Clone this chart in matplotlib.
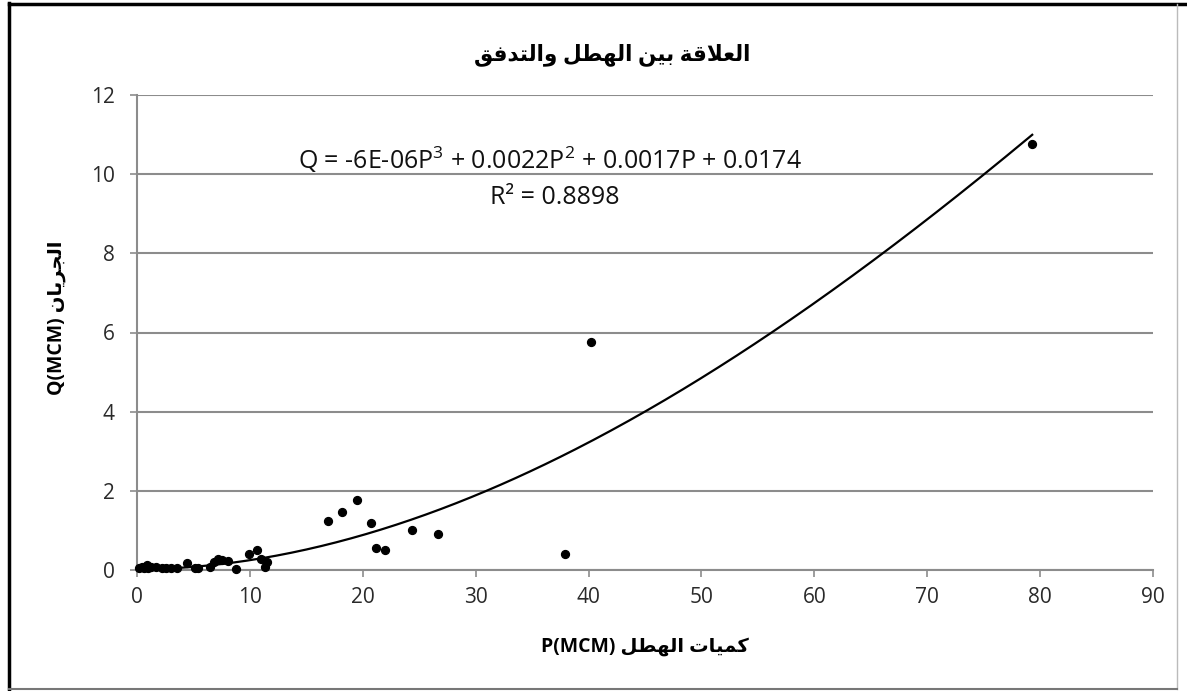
"""Rainfall vs. runoff scatter with cubic trendline."""

import numpy as np
import matplotlib
matplotlib.use('Agg')
import matplotlib.pyplot as plt
from matplotlib.lines import Line2D

# rainfall P (MCM) and runoff Q (MCM)
p_vals = [0.2, 0.4, 0.6, 0.9, 1.0, 1.2, 1.7, 2.2, 2.6, 3.0, 3.5, 4.4, 5.1, 5.4,
          6.5, 6.8, 7.2, 7.5, 8.1, 8.8, 9.9, 10.6, 11.0, 11.3, 11.5,
          16.9, 18.2, 19.5, 20.7, 21.2, 22.0, 24.4, 26.7, 37.9, 40.2, 79.3]
q_vals = [0.05, 0.07, 0.04, 0.13, 0.04, 0.08, 0.07, 0.05, 0.05, 0.04, 0.05, 0.18, 0.06, 0.04,
          0.07, 0.21, 0.29, 0.25, 0.23, 0.03, 0.40, 0.50, 0.28, 0.08, 0.20,
          1.24, 1.46, 1.78, 1.18, 0.55, 0.50, 1.01, 0.92, 0.40, 5.76, 10.75]

# trendline coefficients as printed on the chart (highest power first)
trend_coefs = [-6e-06, 0.0022, 0.0017, 0.0174]
r_squared = 0.8898

x_ticks = list(range(0, 91, 10))
y_ticks = list(range(0, 13, 2))

title_ar = 'العلاقة بين الهطل والتدفق'
xlabel_ar = 'كميات الهطل'
ylabel_ar = 'الجريان'

# --- minimal Arabic shaping (matplotlib has no complex text layout) ---
# isolated, final, initial, medial
FORMS = {
    'ا': ('\uFE8D', '\uFE8E', None, None),
    'ب': ('\uFE8F', '\uFE90', '\uFE91', '\uFE92'),
    'ة': ('\uFE93', '\uFE94', None, None),
    'ت': ('\uFE95', '\uFE96', '\uFE97', '\uFE98'),
    'ج': ('\uFE9D', '\uFE9E', '\uFE9F', '\uFEA0'),
    'د': ('\uFEA9', '\uFEAA', None, None),
    'ر': ('\uFEAD', '\uFEAE', None, None),
    'ط': ('\uFEC1', '\uFEC2', '\uFEC3', '\uFEC4'),
    'ع': ('\uFEC9', '\uFECA', '\uFECB', '\uFECC'),
    'ف': ('\uFED1', '\uFED2', '\uFED3', '\uFED4'),
    'ق': ('\uFED5', '\uFED6', '\uFED7', '\uFED8'),
    'ك': ('\uFED9', '\uFEDA', '\uFEDB', '\uFEDC'),
    'ل': ('\uFEDD', '\uFEDE', '\uFEDF', '\uFEE0'),
    'م': ('\uFEE1', '\uFEE2', '\uFEE3', '\uFEE4'),
    'ن': ('\uFEE5', '\uFEE6', '\uFEE7', '\uFEE8'),
    'ه': ('\uFEE9', '\uFEEA', '\uFEEB', '\uFEEC'),
    'و': ('\uFEED', '\uFEEE', None, None),
    'ي': ('\uFEF1', '\uFEF2', '\uFEF3', '\uFEF4'),
    'لا': ('\uFEFB', '\uFEFC', None, None),
}


def shape_arabic(text):
    """Return visual (left-to-right) string of presentation forms."""
    tokens = []
    i = 0
    while i < len(text):
        if text[i] == 'ل' and i + 1 < len(text) and text[i + 1] == 'ا':
            tokens.append('لا')
            i += 2
        else:
            tokens.append(text[i])
            i += 1
    out = []
    for k, t in enumerate(tokens):
        if t not in FORMS:
            out.append(t)
            continue
        prev = tokens[k - 1] if k > 0 else None
        nxt = tokens[k + 1] if k + 1 < len(tokens) else None
        join_prev = prev in FORMS and FORMS[prev][2] is not None
        join_next = FORMS[t][2] is not None and nxt in FORMS
        iso, fin, ini, med = FORMS[t]
        if join_prev and join_next:
            out.append(med)
        elif join_prev:
            out.append(fin)
        elif join_next:
            out.append(ini)
        else:
            out.append(iso)
    return ''.join(reversed(out))


plt.rcParams['font.family'] = ['Open Sans', 'DejaVu Sans']
plt.rcParams['mathtext.fontset'] = 'custom'
plt.rcParams['mathtext.rm'] = 'Open Sans'
plt.rcParams['mathtext.default'] = 'rm'

fig = plt.figure(figsize=(11.87, 6.91), dpi=100)
W, H = 1187, 691


def fx(px):
    return px / W


def fy(py):
    return 1 - py / H


ax = fig.add_axes([fx(137), fy(570), (1153 - 137) / W, (570 - 95) / H])

grid_col = '#8c8c8c'
ax.set_xlim(0, 90)
ax.set_ylim(0, 12)
ax.set_xticks(x_ticks)
ax.set_yticks(y_ticks)
ax.yaxis.grid(True, color=grid_col, linewidth=1.5)
ax.set_axisbelow(True)
for side in ['top', 'right']:
    ax.spines[side].set_visible(False)
for side in ['left', 'bottom']:
    ax.spines[side].set_color(grid_col)
    ax.spines[side].set_linewidth(1.5)
ax.tick_params(axis='both', direction='out', length=5, width=1.2, color=grid_col,
               labelsize=15, labelcolor='#2a2a2a')
ax.tick_params(axis='x', pad=7)
ax.tick_params(axis='y', pad=11)

# trendline
xs = np.linspace(min(p_vals), max(p_vals), 300)
ax.plot(xs, np.polyval(trend_coefs, xs), color='black', linewidth=1.6, zorder=3)

ax.scatter(p_vals, q_vals, s=32, color='black', zorder=4, clip_on=False)

eq = 'Q = -6E-06P$^{3}$ + 0.0022P$^{2}$ + 0.0017P + 0.0174'
fig.text(fx(550), fy(160), eq, fontsize=18, ha='center', va='center', color='#111111')
fig.text(fx(555), fy(198), f'R² = {r_squared}', fontsize=18,
         ha='center', va='center', color='#111111')

fig.text(fx(612), fy(55), shape_arabic(title_ar), fontsize=15.5, fontweight='bold',
         ha='center', va='center')
fig.text(fx(645), fy(647), 'P(MCM) ' + shape_arabic(xlabel_ar), fontsize=14,
         fontweight='bold', ha='center', va='center')
fig.text(fx(57), fy(318), 'Q(MCM) ' + shape_arabic(ylabel_ar), fontsize=14,
         fontweight='bold', ha='center', va='center', rotation=90)

# outer frame of the chart area
fig.add_artist(Line2D([fx(9), fx(9)], [0, fy(3)], transform=fig.transFigure,
                      color='black', linewidth=2.5))
fig.add_artist(Line2D([fx(9), 1], [fy(4), fy(4)], transform=fig.transFigure,
                      color='black', linewidth=2.5))
fig.add_artist(Line2D([fx(1177), fx(1177)], [fy(689), fy(4)], transform=fig.transFigure,
                      color='#bbbbbb', linewidth=1))
fig.add_artist(Line2D([fx(9), fx(1177)], [fy(689), fy(689)], transform=fig.transFigure,
                      color='#777777', linewidth=1.5))

fig.savefig('out.png', dpi=100)
